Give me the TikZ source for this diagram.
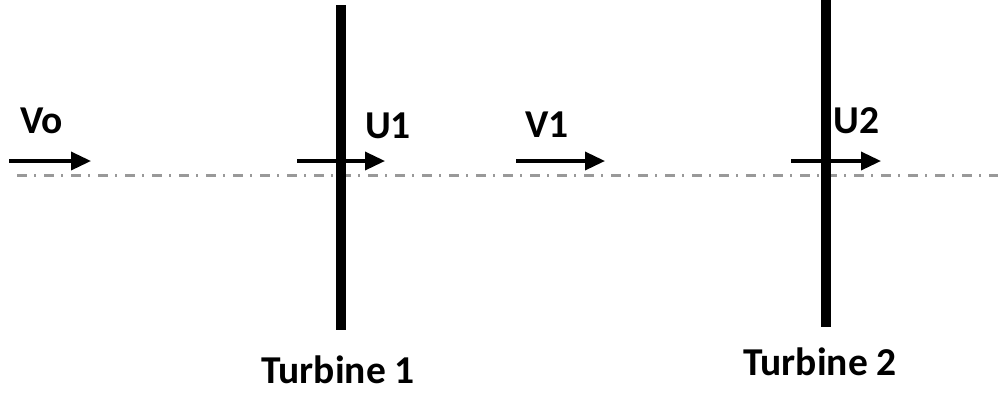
\documentclass[tikz,border=0pt]{standalone}
\usepackage{fontspec}
\setmainfont{Carlito}
\usetikzlibrary{arrows.meta}
\tikzset{
  flow/.style={line width=3.5bp, -{Triangle[length=20bp,width=18bp]}},
  turbine/.style={line width=10bp},
  axisline/.style={line width=3bp, color=black!40, dash pattern=on 10bp off 7bp on 2bp off 8bp},
  lbl/.style={inner sep=0pt, anchor=base west, font=\fontsize{39.5bp}{46bp}\selectfont\bfseries}
}
\begin{document}
\begin{tikzpicture}[x=1bp,y=-1bp]
\useasboundingbox (0,0) rectangle (998,396);
% axis
\coordinate (axA) at (17,175);
\coordinate (axB) at (998,175);
\draw[axisline] (axA) -- (axB);
% turbines
\coordinate (t1top) at (341,5);
\coordinate (t1bot) at (341,330);
\coordinate (t2top) at (825.5,0);
\coordinate (t2bot) at (825.5,327);
\draw[turbine] (t1top) -- (t1bot);
\draw[turbine] (t2top) -- (t2bot);
% arrows
\coordinate (vo0) at (9,161);  \coordinate (vo1) at (91,161);
\coordinate (u10) at (297,161); \coordinate (u11) at (385,161);
\coordinate (v10) at (516,161); \coordinate (v11) at (605,161);
\coordinate (u20) at (791,161); \coordinate (u21) at (881,161);
\draw[flow] (vo0) -- (vo1);
\draw[flow] (u10) -- (u11);
\draw[flow] (v10) -- (v11);
\draw[flow] (u20) -- (u21);
% labels
\node[lbl] (lvo) at (20,133) {Vo};
\node[lbl] (lu1) at (365,138) {U1};
\node[lbl] (lv1) at (525,137) {V1};
\node[lbl] (lu2) at (833,133) {U2};
\node[lbl] (lt1) at (261,383) {Turbine 1};
\node[lbl] (lt2) at (743,375) {Turbine 2};
\end{tikzpicture}
\end{document}
